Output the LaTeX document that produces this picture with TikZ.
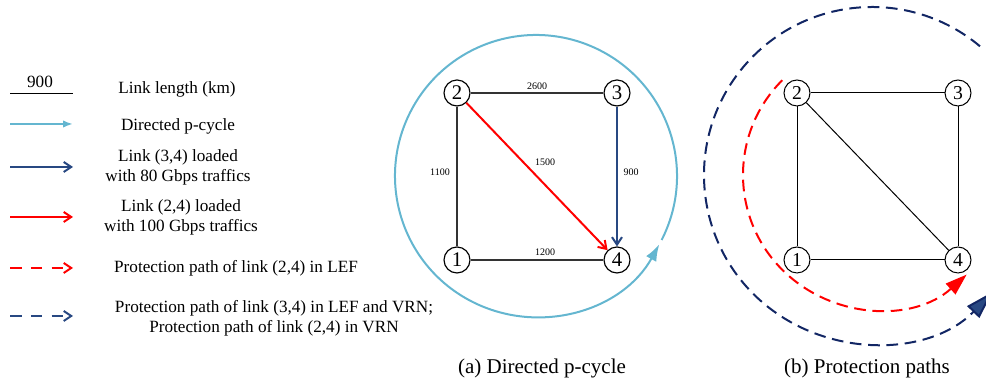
\documentclass[tikz,border=0pt]{standalone}
\usepackage{fontspec}
\setmainfont{Liberation Serif}
\usetikzlibrary{arrows.meta}
\definecolor{cyclecol}{RGB}{100,182,208}
\definecolor{loadblue}{RGB}{40,72,130}
\definecolor{pathnavy}{RGB}{18,38,100}
\tikzset{
    vtx/.style={circle,draw,fill=white,line width=0.7pt,inner sep=0pt,minimum size=15.6pt,font=\fontsize{12.5}{14}\selectfont},
    vtxb/.style={vtx,line width=0.6pt,font=\fontsize{11.8}{14}\selectfont},
    lenlbl/.style={font=\fontsize{6}{7}\selectfont,inner sep=1pt},
    legtxt/.style={font=\fontsize{10.3}{12}\selectfont,align=center,inner sep=0pt},
    captxt/.style={font=\fontsize{12.6}{14}\selectfont,inner sep=0pt},
    lnk/.style={draw=black!80,line width=0.7pt},
    lnkb/.style={draw=black,line width=0.6pt},
    cyc/.style={draw=cyclecol,line width=1.2pt},
    load34/.style={draw=loadblue,line width=1.2pt,-{Straight Barb[length=4.5pt,width=6pt]}},
    load24/.style={draw=red,line width=1.2pt,-{Straight Barb[length=4.5pt,width=6pt]}},
    legdash/.style={line width=1.2pt,dash pattern=on 7pt off 5.5pt},
    arcdash/.style={line width=1.2pt,dash pattern=on 7pt off 4pt}
}
\begin{document}
\begin{tikzpicture}[x=0.6pt,y=0.6pt]
                \useasboundingbox (0,0) rectangle (986,383);
                \clip (0,0) rectangle (986,383);
                \foreach \n/\y in {len/289,cyc/259,blu/216,red/166,rdash/115,bdash/67} {
                    \coordinate (\n-l) at (10,\y);
                    \coordinate (\n-r) at (73,\y);
                }
                \draw [line width=0.6pt] (len-l) -- (len-r);
                \node [legtxt] (k900) at (40,301) {900};
                \node [legtxt] (tlen) at (177,294) {Link length (km)};
                \draw [cyc,-{Latex[length=6pt,width=4.5pt]}] (cyc-l) -- (cyc-r);
                \node [legtxt] (tcyc) at (178,257) {Directed p-cycle};
                \draw [load34] (blu-l) -- (blu-r);
                \node [legtxt] (tblu) at (178,216) {Link (3,4) loaded\\with 80 Gbps traffics};
                \draw [load24] (red-l) -- (red-r);
                \node [legtxt] (tred) at (181,166) {Link (2,4) loaded\\with 100 Gbps traffics};
                \draw [legdash,red,-{Straight Barb[length=4.5pt,width=6pt]}] (rdash-l) -- (rdash-r);
                \node [legtxt] (trdash) at (236,115) {Protection path of link (2,4) in LEF};
                \draw [legdash,loadblue,-{Straight Barb[length=4.5pt,width=6pt]}] (bdash-l) -- (bdash-r);
                \node [legtxt] (tbdash) at (274,65) {Protection path of link (3,4) in LEF and VRN;\\Protection path of link (2,4) in VRN};

                \coordinate (acen) at (536,207);
                \draw [cyc,-{Latex[length=10pt,width=7pt]}] (acen) ++(-27:141) arc [start angle=-27,end angle=331,radius=141];
                \node [vtx] (a2) at (457,290) {2};
                \node [vtx] (a3) at (617,290) {3};
                \node [vtx] (a1) at (457,123) {1};
                \node [vtx] (a4) at (617,123) {4};
                \draw [lnk] (a2) -- (a3);
                \draw [lnk] (a2) -- (a1);
                \draw [lnk] (a1) -- (a4);
                \draw [load34] (a3) -- (a4);
                \draw [load24] (a2) -- (a4);
                \node [lenlbl] (l23) at (537,297) {2600};
                \node [lenlbl] (l21) at (440,211) {1100};
                \node [lenlbl] (l24) at (545,221) {1500};
                \node [lenlbl] (l34) at (631,211) {900};
                \node [lenlbl] (l14) at (545,131) {1200};
                \node [captxt] (capa) at (542,15) {(a) Directed p-cycle};

                \coordinate (rcen) at (877,208);
                \coordinate (bcen) at (872,208);
                \draw [arcdash,pathnavy,-{Triangle[length=17pt,width=10pt,fill=loadblue]}] (bcen) ++(50:168) arc [start angle=50,end angle=316,radius=168];
                \draw [arcdash,red,-{Triangle[length=13pt,width=8.5pt]}] (rcen) ++(135:134) arc [start angle=135,end angle=312,radius=134];
                \node [vtxb] (b2) at (797,290) {2};
                \node [vtxb] (b3) at (958,290) {3};
                \node [vtxb] (b1) at (797,123) {1};
                \node [vtxb] (b4) at (958,123) {4};
                \draw [lnkb] (b2) -- (b3);
                \draw [lnkb] (b2) -- (b1);
                \draw [lnkb] (b1) -- (b4);
                \draw [lnkb] (b3) -- (b4);
                \draw [lnkb] (b2) -- (b4);
                \node [captxt] (capb) at (867,15) {(b) Protection paths};
            \end{tikzpicture}
\end{document}
